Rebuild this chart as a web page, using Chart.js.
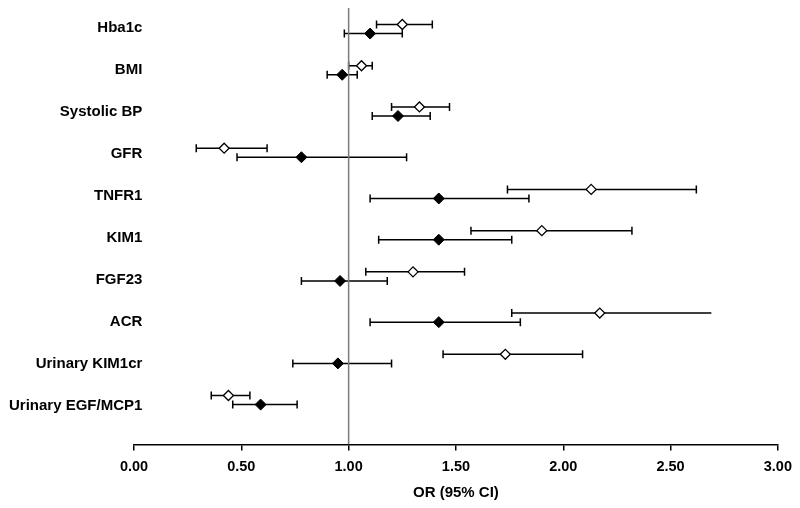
<!DOCTYPE html>
<html>
<head>
<meta charset="utf-8">
<script src="https://cdn.jsdelivr.net/npm/chart.js@4.4.1/dist/chart.umd.min.js"></script>
<style>
  html, body { margin: 0; padding: 0; background: #fff; }
  #wrap { width: 800px; height: 508px; }
</style>
</head>
<body>
<div id="wrap"><canvas id="forest" width="800" height="508"></canvas></div>
<script>
// rows, top to bottom
const markers = ["Hba1c", "BMI", "Systolic BP", "GFR", "TNFR1", "KIM1", "FGF23", "ACR", "Urinary KIM1cr", "Urinary EGF/MCP1"];

// open diamonds
const openOR = [1.25, 1.06, 1.33, 0.42, 2.13, 1.90, 1.30, 2.17, 1.73, 0.44];
const openLo = [1.13, 1.00, 1.20, 0.29, 1.74, 1.57, 1.08, 1.76, 1.44, 0.36];
const openHi = [1.39, 1.11, 1.47, 0.62, 2.62, 2.32, 1.54, 2.69, 2.09, 0.54];

// filled diamonds
const filledOR = [1.10, 0.97, 1.23, 0.78, 1.42, 1.42, 0.96, 1.42, 0.95, 0.59];
const filledLo = [0.98, 0.90, 1.11, 0.48, 1.10, 1.14, 0.78, 1.10, 0.74, 0.46];
const filledHi = [1.25, 1.04, 1.38, 1.27, 1.84, 1.76, 1.18, 1.80, 1.20, 0.76];

// the upper whisker of open ACR has no cap in the original
const openNoUpperCap = ["ACR"];

const xTicks = [0, 0.5, 1, 1.5, 2, 2.5, 3];
const refValue = 1;

// rows for the marks, and a slightly wider-spaced axis for the names (as in the original)
const yMin = -0.51, yMax = 10.08;
const labelMin = -0.483, labelMax = 9.911;
const rowShift = 0.11;
const family = "'Liberation Sans', Arial, sans-serif";
const labelFont = { family, size: 15, weight: "bold" };
const tickFont = { family, size: 14.5, weight: "bold" };

/* whiskers with end caps, drawn under the diamonds */
const errorBars = {
  id: "errorBars",
  beforeDatasetsDraw(chart) {
    const { ctx, scales: { x: xs, y: ys } } = chart;
    ctx.save();
    ctx.strokeStyle = "#000";
    ctx.lineWidth = 1.5;
    chart.data.datasets.forEach((ds) => {
      if (!ds.lo) return;
      ds.data.forEach((p, i) => {
        const y = ys.getPixelForValue(p.y);
        const x1 = xs.getPixelForValue(ds.lo[i]);
        const x2 = xs.getPixelForValue(ds.hi[i]);
        ctx.beginPath();
        ctx.moveTo(x1, y);
        ctx.lineTo(x2, y);
        ctx.moveTo(x1, y - 4);
        ctx.lineTo(x1, y + 4);
        if (!(ds.noUpperCap || []).includes(markers[i])) {
          ctx.moveTo(x2, y - 4);
          ctx.lineTo(x2, y + 4);
        }
        ctx.stroke();
      });
    });
    ctx.restore();
  },
};

new Chart(document.getElementById("forest"), {
  type: "scatter",
  data: {
    datasets: [
      {
        label: "Open",
        data: markers.map((m, i) => ({ x: openOR[i], y: i - rowShift })),
        lo: openLo,
        hi: openHi,
        noUpperCap: openNoUpperCap,
        pointStyle: "rectRot",
        pointRadius: 5,
        backgroundColor: "#fff",
        borderColor: "#000",
        borderWidth: 1.3,
      },
      {
        label: "Filled",
        data: markers.map((m, i) => ({ x: filledOR[i], y: i + rowShift })),
        lo: filledLo,
        hi: filledHi,
        pointStyle: "rectRot",
        pointRadius: 5.5,
        backgroundColor: "#000",
        borderColor: "#000",
        borderWidth: 1,
      },
      {
        type: "line",
        label: "OR = 1",
        data: [
          { x: refValue, y: yMin },
          { x: refValue, y: yMax },
        ],
        borderColor: "#7a7a7a",
        borderWidth: 1.5,
        pointRadius: 0,
        order: 5,
      },
    ],
  },
  options: {
    responsive: false,
    animation: false,
    events: [],
    layout: { padding: { top: 8, right: 22, bottom: 6, left: 0 } },
    plugins: {
      legend: { display: false },
      tooltip: { enabled: false },
    },
    scales: {
      x: {
        type: "linear",
        min: xTicks[0],
        max: xTicks[xTicks.length - 1],
        afterBuildTicks: (s) => {
          s.ticks = xTicks.map((v) => ({ value: v }));
        },
        grid: {
          display: true,
          drawOnChartArea: false,
          drawTicks: true,
          tickLength: 6,
          color: "#000",
          lineWidth: 1.5,
        },
        border: { display: true, color: "#000", width: 1.5 },
        ticks: {
          color: "#000",
          font: tickFont,
          padding: 8,
          maxRotation: 0,
          callback: (v) => Number(v).toFixed(2),
        },
        title: {
          display: true,
          text: "OR (95% CI)",
          color: "#000",
          font: labelFont,
          padding: { top: 0, bottom: 0 },
        },
      },
      y: {
        type: "linear",
        display: false,
        reverse: true,
        min: yMin,
        max: yMax,
      },
      names: {
        type: "linear",
        position: "left",
        reverse: true,
        min: labelMin,
        max: labelMax,
        afterBuildTicks: (s) => {
          s.ticks = markers.map((m, i) => ({ value: i }));
        },
        afterFit: (s) => {
          s.width = 134;
        },
        grid: { display: false, drawTicks: false },
        border: { display: false },
        // mirrored + far so the right-aligned names may run past the axis start
        ticks: {
          mirror: true,
          crossAlign: "far",
          color: "#000",
          font: labelFont,
          padding: -125,
          callback: (v) => markers[v],
        },
      },
    },
  },
  plugins: [errorBars],
});
</script>
</body>
</html>
